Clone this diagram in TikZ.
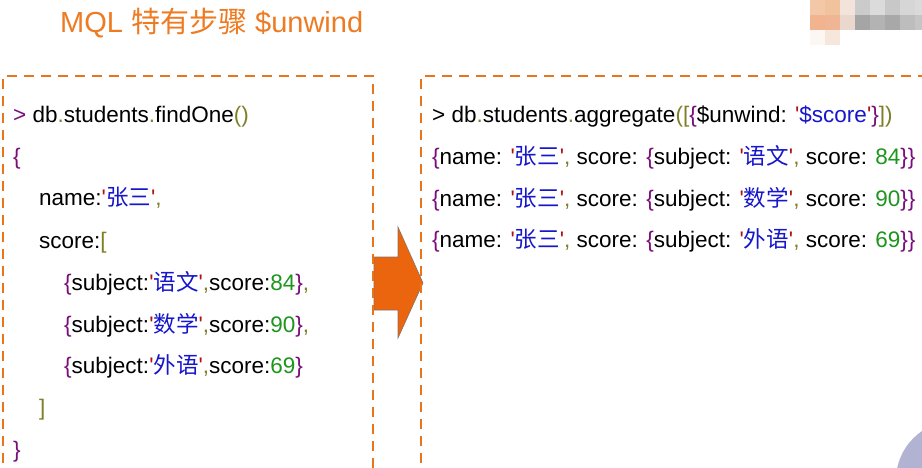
\documentclass[tikz,border=0pt]{standalone}
\usepackage{fontspec}
\setmainfont{Liberation Sans}
\newfontfamily\cjk{Noto Sans CJK SC}
\definecolor{titleorange}{HTML}{EE7B22}
\definecolor{boxorange}{HTML}{E8751A}
\definecolor{arroworange}{HTML}{EA650E}
\definecolor{arrowedge}{HTML}{8A7262}
\definecolor{codepurple}{HTML}{7A0E7A}
\definecolor{codeolive}{HTML}{7F7F2A}
\definecolor{codered}{HTML}{B01010}
\definecolor{codeblue}{HTML}{1616CC}
\definecolor{codegreen}{HTML}{1E961E}
\definecolor{lavender}{HTML}{B2B2D2}
\newcommand\pp[1]{\textcolor{codepurple}{#1}}
\newcommand\po[1]{\textcolor{codeolive}{#1}}
\newcommand\pb[1]{\textcolor{codeblue}{#1}}
\newcommand\pg[1]{\textcolor{codegreen}{#1}}
\newcommand\qt{\textcolor{codered}{\textquotesingle}}
\newcommand\zh[1]{{\cjk #1}}
\tikzset{
	boxline/.style={line width=2.8pt, color=boxorange, dash pattern=on 10pt off 7pt},
	codeline/.style={anchor=base west, inner sep=0pt, font=\fontsize{22.5}{27}\selectfont}
}

\begin{document}
\begin{tikzpicture}[x=1pt,y=-1pt]
		%%%%% START %%%%%
		\useasboundingbox (0,0) rectangle (922,467);
		\clip (0,0) rectangle (922,467);
		\fill[white] (0,0) rectangle (922,467);
		
		\node[anchor=base west, inner sep=0pt, text=titleorange, font=\fontsize{29}{33}\selectfont] (title) at (60,32) {MQL \zh{特有步骤} \$unwind};
		
		% mosaic in the corner
		\foreach \x/\c in {810/F3C8A8, 825/F1C39C, 840/F3E3DA, 855/CBCBCB, 870/DBDBDB, 885/C8C8C8, 900/D6D6D6, 915/DADADA}{
			\definecolor{mosaic}{HTML}{\c}
			\fill[mosaic] (\x,0) rectangle ++(15,15);
		}
		\foreach \x/\c in {810/F1B48E, 825/F0B595, 840/EAD8CE, 855/A5A5A5, 870/B3B3B3, 885/A8A8A8, 900/BDBDBD, 915/C5C5C5}{
			\definecolor{mosaic}{HTML}{\c}
			\fill[mosaic] (\x,15) rectangle ++(15,15);
		}
		\foreach \x/\c in {810/FCF7F3, 825/F6E6DC}{
			\definecolor{mosaic}{HTML}{\c}
			\fill[mosaic] (\x,30) rectangle ++(15,15);
		}
		
		\draw[fill=arroworange, draw=arrowedge, line width=0.6pt] (374,257) -- (398,257) -- (398,227) -- (423,283) -- (398,338) -- (398,310) -- (374,310) -- cycle;
		
		\draw[boxline] (3,480) -- (3,76) -- (373,76) -- (373,480);
		\draw[boxline] (421,480) -- (421,76) -- (935,76);
		
		% left box
		\node[codeline] (l1) at (13,122) {\pp{>} db\po{.}students\po{.}findOne\po{()}};
		\node[codeline] (l2) at (13,164) {\pp{\{}};
		\node[codeline] (l3) at (39,205) {name:\qt\pb{\zh{张三}}\qt\po{,}};
		\node[codeline] (l4) at (39,248) {score:\po{[}};
		\node[codeline] (l5) at (64,290) {\pp{\{}subject:\qt\pb{\zh{语文}}\qt\po{,}score:\pg{84}\pp{\}}\po{,}};
		\node[codeline] (l6) at (64,332) {\pp{\{}subject:\qt\pb{\zh{数学}}\qt\po{,}score:\pg{90}\pp{\}}\po{,}};
		\node[codeline] (l7) at (64,373) {\pp{\{}subject:\qt\pb{\zh{外语}}\qt\po{,}score:\pg{69}\pp{\}}};
		\node[codeline] (l8) at (39,415) {\po{]}};
		\node[codeline] (l9) at (13,457) {\pp{\}}};
		
		% right box
		\node[codeline] (r1) at (432,122) {> db\po{.}students\po{.}aggregate\po{([}\pp{\{}\$unwind: \qt\pb{\$score}\qt\pp{\}}\po{])}};
		\node[codeline] (r2) at (432,164) {\pp{\{}name: \qt\pb{\zh{张三}}\qt\po{,} score: \pp{\{}subject: \qt\pb{\zh{语文}}\qt\po{,} score: \pg{84}\pp{\}\}}};
		\node[codeline] (r3) at (432,206) {\pp{\{}name: \qt\pb{\zh{张三}}\qt\po{,} score: \pp{\{}subject: \qt\pb{\zh{数学}}\qt\po{,} score: \pg{90}\pp{\}\}}};
		\node[codeline] (r4) at (432,247) {\pp{\{}name: \qt\pb{\zh{张三}}\qt\po{,} score: \pp{\{}subject: \qt\pb{\zh{外语}}\qt\po{,} score: \pg{69}\pp{\}\}}};
		
		\fill[lavender] (955,480) circle (59);
		
		%%%%% END %%%%%
\end{tikzpicture}
\end{document}
